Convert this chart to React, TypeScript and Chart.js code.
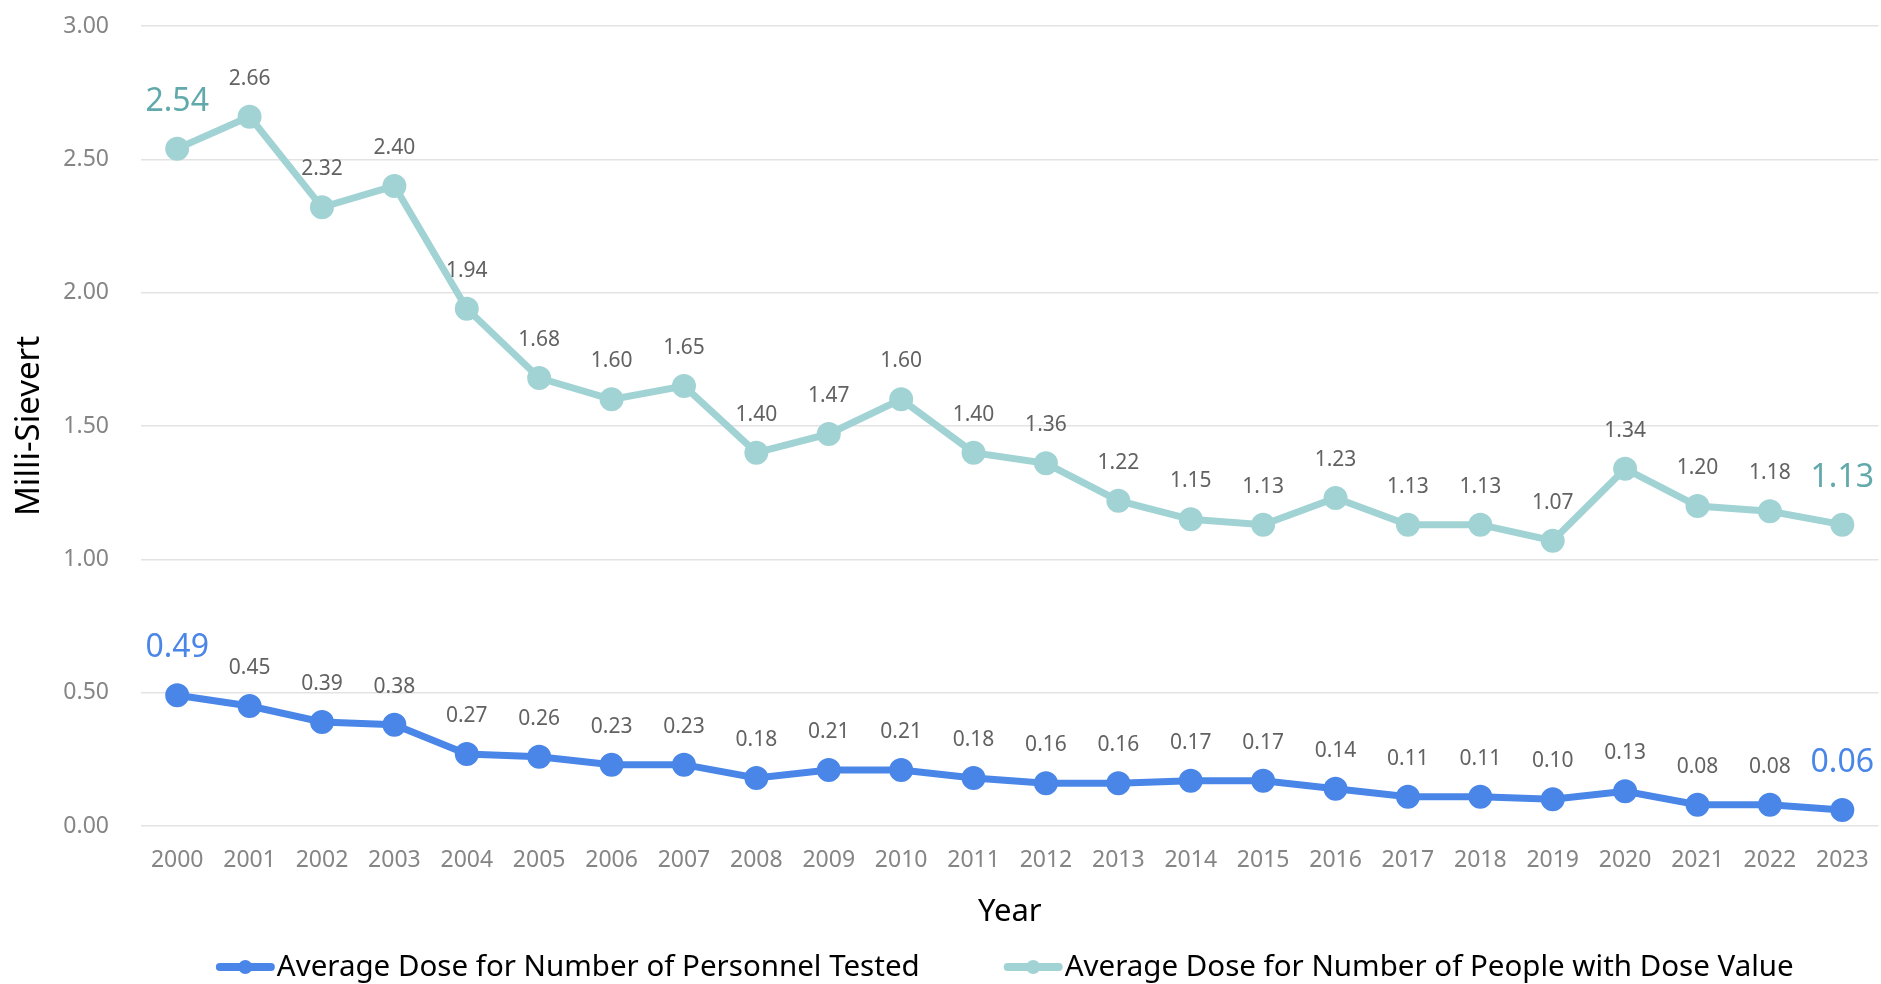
import { useEffect, useRef } from "react";
import { Chart, registerables } from "chart.js";

Chart.register(...registerables);

// Years on the category axis
const years = [
  "2000", "2001", "2002", "2003", "2004", "2005", "2006", "2007", "2008", "2009", "2010", "2011",
  "2012", "2013", "2014", "2015", "2016", "2017", "2018", "2019", "2020", "2021", "2022", "2023",
];

// Average dose (mSv) over all personnel tested
const doseAllTested = [
  0.49, 0.45, 0.39, 0.38, 0.27, 0.26, 0.23, 0.23, 0.18, 0.21, 0.21, 0.18,
  0.16, 0.16, 0.17, 0.17, 0.14, 0.11, 0.11, 0.10, 0.13, 0.08, 0.08, 0.06,
];

// Average dose (mSv) over people with a recorded dose value
const doseWithValue = [
  2.54, 2.66, 2.32, 2.40, 1.94, 1.68, 1.60, 1.65, 1.40, 1.47, 1.60, 1.40,
  1.36, 1.22, 1.15, 1.13, 1.23, 1.13, 1.13, 1.07, 1.34, 1.20, 1.18, 1.13,
];

const seriesNames = [
  "Average Dose for Number of Personnel Tested",
  "Average Dose for Number of People with Dose Value",
];

const yMin = 0;
const yMax = 3;
const yStep = 0.5;

const FONT = '"Noto Sans", sans-serif';
const BLUE = "#4a86e8";
const TEAL = "#a2d3d4";
const TEAL_TEXT = "#62a9ab";
const LABEL_GRAY = "#626262";
const AXIS_GRAY = "#858585";

// Value labels above each point; first and last are larger and coloured
const valueLabels = {
  id: "valueLabels",
  afterDatasetsDraw(chart: any) {
    const ctx = chart.ctx;
    const accents = [BLUE, TEAL_TEXT];
    ctx.save();
    ctx.textAlign = "center";
    ctx.textBaseline = "middle";
    chart.data.datasets.forEach((ds: any, di: number) => {
      const meta = chart.getDatasetMeta(di);
      const last = ds.data.length - 1;
      meta.data.forEach((pt: any, i: number) => {
        const v = ds.data[i] as number;
        const edge = i === 0 || i === last;
        ctx.font = edge ? `32px ${FONT}` : `21px ${FONT}`;
        ctx.fillStyle = edge ? accents[di] : LABEL_GRAY;
        ctx.fillText(v.toFixed(2), pt.x, pt.y - (edge ? 47 : 38));
      });
    });
    ctx.restore();
  },
};

// Legend at the bottom, centred under the plot area
const bottomLegend = {
  id: "bottomLegend",
  afterDraw(chart: any) {
    const ctx = chart.ctx;
    const area = chart.chartArea;
    const cy = 967;
    const markerW = 59;
    const markerGap = 2;
    const itemGap = 84;
    ctx.save();
    ctx.font = `29.5px ${FONT}`;
    ctx.textBaseline = "middle";
    ctx.textAlign = "left";
    const items = chart.data.datasets.map((ds: any) => ({
      label: ds.label as string,
      color: ds.borderColor as string,
      w: ctx.measureText(ds.label).width,
    }));
    const total =
      items.reduce((s: number, it: any) => s + markerW + markerGap + it.w, 0) +
      itemGap * (items.length - 1);
    let x = (area.left + area.right) / 2 - total / 2 - 5;
    items.forEach((it: any) => {
      ctx.strokeStyle = it.color;
      ctx.lineWidth = 8;
      ctx.lineCap = "round";
      ctx.beginPath();
      ctx.moveTo(x + 4, cy);
      ctx.lineTo(x + markerW - 4, cy);
      ctx.stroke();
      ctx.fillStyle = it.color;
      ctx.beginPath();
      ctx.arc(x + markerW / 2, cy, 7, 0, Math.PI * 2);
      ctx.fill();
      ctx.fillStyle = "#000";
      ctx.fillText(it.label, x + markerW + markerGap, cy + 1);
      x += markerW + markerGap + it.w + itemGap;
    });
    ctx.restore();
  },
};

export default function App() {
  const canvasRef = useRef<HTMLCanvasElement | null>(null);

  useEffect(() => {
    if (!canvasRef.current) return;
    Chart.defaults.font.family = FONT;
    const chart = new Chart(canvasRef.current, {
      type: "line",
      data: {
        labels: years,
        datasets: [
          {
            label: seriesNames[0],
            data: doseAllTested,
            borderColor: BLUE,
            backgroundColor: BLUE,
            pointBackgroundColor: BLUE,
            pointBorderColor: BLUE,
            borderWidth: 7,
            pointRadius: 8.5,
            pointHoverRadius: 8.5,
            tension: 0,
          },
          {
            label: seriesNames[1],
            data: doseWithValue,
            borderColor: TEAL,
            backgroundColor: TEAL,
            pointBackgroundColor: TEAL,
            pointBorderColor: TEAL,
            borderWidth: 7,
            pointRadius: 8.5,
            pointHoverRadius: 8.5,
            tension: 0,
          },
        ],
      },
      options: {
        animation: false,
        responsive: true,
        maintainAspectRatio: false,
        layout: { padding: { top: 26, bottom: 48, left: 0, right: 0 } },
        plugins: {
          legend: { display: false },
          tooltip: { enabled: false },
        },
        scales: {
          x: {
            type: "category",
            offset: true,
            grid: { display: false, drawTicks: false },
            border: { display: false },
            ticks: {
              font: { size: 23 },
              color: AXIS_GRAY,
              padding: 21,
              maxRotation: 0,
              autoSkip: false,
            },
            title: {
              display: true,
              text: "Year",
              color: "#000",
              font: { size: 31 },
              padding: { top: 0, bottom: 5 },
            },
            afterFit(scale: any) {
              scale.height = 110;
              scale.paddingLeft = 0;
              scale.paddingRight = 0;
            },
          },
          y: {
            min: yMin,
            max: yMax,
            grid: { color: "#e3e3e3", lineWidth: 1.5, drawTicks: false },
            border: { display: false },
            ticks: {
              stepSize: yStep,
              font: { size: 23 },
              color: AXIS_GRAY,
              padding: 32,
              callback: (v: any) => Number(v).toFixed(2),
            },
            title: {
              display: true,
              text: "Milli-Sievert",
              color: "#000",
              font: { size: 33 },
              padding: { top: 10, bottom: 0 },
            },
            afterFit(scale: any) {
              scale.width = 141;
              scale.paddingTop = 0;
              scale.paddingBottom = 0;
            },
          },
        },
      },
      plugins: [valueLabels, bottomLegend],
    });
    return () => chart.destroy();
  }, []);

  return (
    <div style={{ position: "fixed", left: 0, top: 0, width: 1894, height: 984, background: "#fff" }}>
      <canvas ref={canvasRef} />
    </div>
  );
}
